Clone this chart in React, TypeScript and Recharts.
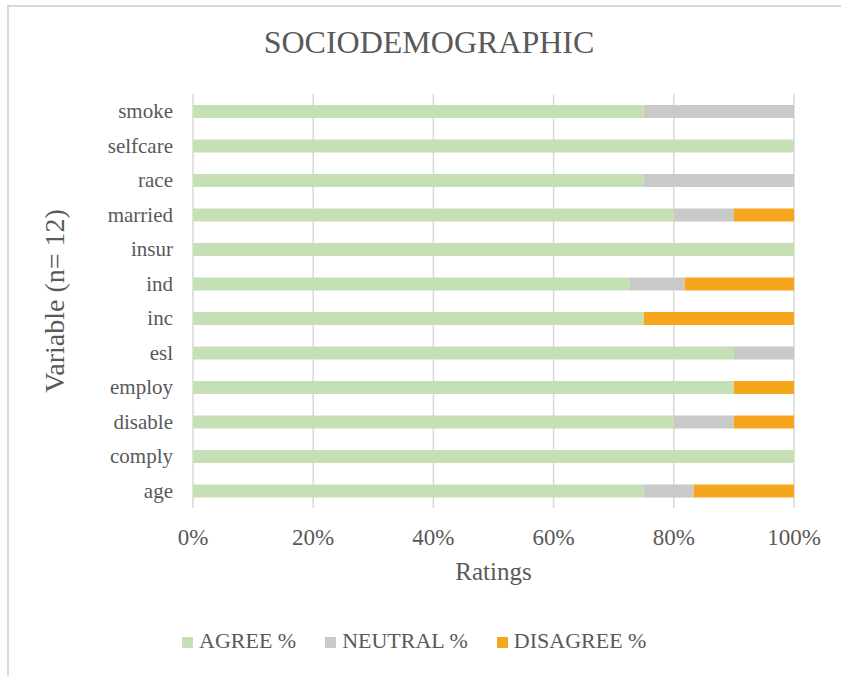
import React from 'react';
import { BarChart, Bar, XAxis, YAxis, CartesianGrid, Legend, Label } from 'recharts';

const categories = ['smoke', 'selfcare', 'race', 'married', 'insur', 'ind', 'inc', 'esl', 'employ', 'disable', 'comply', 'age'];
const agree = [75, 100, 75, 80, 100, 72.7, 75, 90, 90, 80, 100, 75];
const neutral = [25, 0, 25, 10, 0, 9.1, 0, 10, 0, 10, 0, 8.3];
const disagree = [0, 0, 0, 10, 0, 18.2, 25, 0, 10, 10, 0, 16.7];
const xTicks = [0, 20, 40, 60, 80, 100];
const seriesKeys = ['agree', 'neutral', 'disagree'];
const seriesNames = ['AGREE %', 'NEUTRAL %', 'DISAGREE %'];
const seriesColors = ['#c5e0b4', '#c9c9c9', '#f5a61c'];

const title = 'SOCIODEMOGRAPHIC';
const xTitle = 'Ratings';
const yTitle = 'Variable (n= 12)';

const data = categories.map((c, i) => ({
  name: c,
  agree: agree[i],
  neutral: neutral[i],
  disagree: disagree[i],
}));

const FONT = '"Liberation Serif", "Times New Roman", serif';
const TEXT = '#595959';

const XTick = (props: any) => {
  const { x, y, payload } = props;
  return (
    <text x={x} y={y + 37} textAnchor="middle" fontFamily={FONT} fontSize={23} fill={TEXT}>
      {`${payload.value}%`}
    </text>
  );
};

const YTick = (props: any) => {
  const { x, y, payload } = props;
  return (
    <text x={x - 20} y={y + 7} textAnchor="end" fontFamily={FONT} fontSize={21} fill={TEXT}>
      {payload.value}
    </text>
  );
};

const LegendContent = () => (
  <div style={{ display: 'flex', alignItems: 'center', paddingLeft: 182, fontFamily: FONT, fontSize: 22, color: TEXT, lineHeight: '24px' }}>
    {seriesNames.map((n, i) => (
      <div key={n} style={{ display: 'flex', alignItems: 'center', marginRight: 29 }}>
        <span style={{ display: 'inline-block', width: 11, height: 11, background: seriesColors[i], marginRight: 6, marginTop: 3 }} />
        <span>{n}</span>
      </div>
    ))}
  </div>
);

export default function App() {
  return (
    <div style={{ position: 'absolute', left: 0, top: 0, width: 841, height: 676, background: '#fff' }}>
      <div style={{ position: 'absolute', left: 7, top: 5, width: 834, height: 671, borderTop: '2px solid #d9d9d9', borderLeft: '2px solid #d9d9d9' }} />
      <svg style={{ position: 'absolute', left: 0, top: 0 }} width={841} height={80}>
        <text x={429} y={53} textAnchor="middle" fontFamily={FONT} fontSize={32} fill={TEXT}>{title}</text>
      </svg>
      <div style={{ position: 'absolute', left: 0, top: 0 }}>
        <BarChart
          width={841}
          height={676}
          data={data}
          layout="vertical"
          margin={{ top: 94, right: 47, bottom: 0, left: 0 }}
          barSize={13}
        >
          <CartesianGrid horizontal={false} stroke="#d9d9d9" strokeWidth={1.5} />
          <XAxis
            type="number"
            domain={[0, 100]}
            ticks={xTicks}
            height={168}
            axisLine={false}
            tickLine={false}
            tickSize={0}
            tickMargin={0}
            tick={<XTick />}
            interval={0}
          >
            <Label
              content={(p: any) => {
                const vb = p.viewBox;
                return (
                  <text x={vb.x + vb.width / 2} y={vb.y + 72} textAnchor="middle" fontFamily={FONT} fontSize={25} fill={TEXT}>
                    {xTitle}
                  </text>
                );
              }}
            />
          </XAxis>
          <YAxis
            type="category"
            dataKey="name"
            width={193}
            axisLine={false}
            tickLine={false}
            tickSize={0}
            tickMargin={0}
            tick={<YTick />}
            interval={0}
          >
            <Label
              content={() => (
                <text x={64} y={301} textAnchor="middle" transform="rotate(-90, 64, 301)" fontFamily={FONT} fontSize={28} fill={TEXT}>
                  {yTitle}
                </text>
              )}
            />
          </YAxis>
          <Legend
            layout="horizontal"
            verticalAlign="middle"
            align="center"
            wrapperStyle={{ position: 'absolute', top: 629, left: 0, width: 841 }}
            content={<LegendContent />}
          />
          {seriesKeys.map((k, i) => (
            <Bar key={k} dataKey={k} name={seriesNames[i]} stackId="a" fill={seriesColors[i]} isAnimationActive={false} />
          ))}
        </BarChart>
      </div>
    </div>
  );
}
